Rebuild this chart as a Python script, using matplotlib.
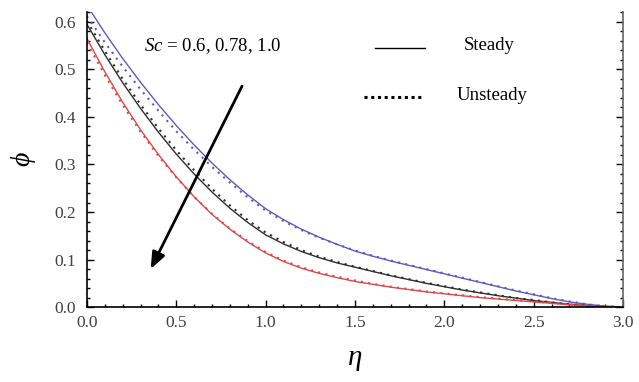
import matplotlib.pyplot as plt
from matplotlib.ticker import MultipleLocator
from matplotlib.lines import Line2D

plt.rcParams['font.family'] = ['Liberation Serif', 'DejaVu Serif']
plt.rcParams['mathtext.fontset'] = 'custom'
plt.rcParams['mathtext.rm'] = 'Liberation Serif'
plt.rcParams['mathtext.it'] = 'Liberation Serif:italic'

eta = [0.0, 0.1, 0.2, 0.3, 0.4, 0.5, 0.6, 0.7, 0.8, 0.9, 1.0,
       1.1, 1.2, 1.3, 1.4, 1.5, 1.6, 1.7, 1.8, 1.9, 2.0,
       2.1, 2.2, 2.3, 2.4, 2.5, 2.6, 2.7, 2.8, 2.9, 3.0]

# Sc = 0.6 (blue), 0.78 (black), 1.0 (red)
steady_06 = [0.635, 0.577, 0.523, 0.473, 0.426, 0.382, 0.341, 0.303, 0.268, 0.236, 0.207,
             0.184, 0.164, 0.147, 0.132, 0.118, 0.107, 0.097, 0.088, 0.079, 0.070,
             0.061, 0.052, 0.043, 0.034, 0.026, 0.018, 0.011, 0.006, 0.002, 0.0]
unsteady_06 = [0.612, 0.557, 0.506, 0.458, 0.413, 0.370, 0.331, 0.295, 0.262, 0.231, 0.203,
               0.181, 0.162, 0.146, 0.132, 0.119, 0.108, 0.098, 0.089, 0.080, 0.071,
               0.062, 0.053, 0.044, 0.035, 0.027, 0.019, 0.012, 0.006, 0.002, 0.0]
steady_078 = [0.595, 0.531, 0.472, 0.418, 0.368, 0.322, 0.280, 0.242, 0.208, 0.178, 0.152,
              0.133, 0.117, 0.104, 0.093, 0.084, 0.075, 0.066, 0.058, 0.050, 0.043,
              0.036, 0.030, 0.024, 0.019, 0.014, 0.010, 0.006, 0.003, 0.001, 0.0]
unsteady_078 = [0.602, 0.539, 0.480, 0.426, 0.376, 0.330, 0.288, 0.249, 0.214, 0.183, 0.157,
                0.137, 0.120, 0.106, 0.095, 0.085, 0.076, 0.067, 0.059, 0.051, 0.044,
                0.037, 0.031, 0.025, 0.019, 0.015, 0.010, 0.006, 0.003, 0.001, 0.0]
steady_10 = [0.565, 0.495, 0.431, 0.373, 0.321, 0.274, 0.232, 0.195, 0.164, 0.137, 0.114,
             0.096, 0.082, 0.071, 0.062, 0.054, 0.048, 0.042, 0.037, 0.032, 0.028,
             0.024, 0.020, 0.017, 0.014, 0.011, 0.008, 0.005, 0.003, 0.001, 0.0]
unsteady_10 = [0.556, 0.488, 0.425, 0.369, 0.318, 0.273, 0.232, 0.196, 0.165, 0.139, 0.116,
               0.098, 0.084, 0.073, 0.064, 0.056, 0.049, 0.043, 0.038, 0.033, 0.029,
               0.025, 0.021, 0.018, 0.015, 0.012, 0.009, 0.006, 0.003, 0.001, 0.0]

colors = ['#5c5cc0', '#2e2e2e', '#e04848']

fig = plt.figure(figsize=(6.39, 3.82), dpi=100)
ax = fig.add_axes([0.136, 0.196, 0.839, 0.773])

dots = (0, (1, 2.5))
ax.plot(eta, steady_06, color=colors[0], lw=1.0)
ax.plot(eta, unsteady_06, color=colors[0], lw=1.5, ls=dots)
ax.plot(eta, steady_078, color=colors[1], lw=1.0)
ax.plot(eta, unsteady_078, color=colors[1], lw=1.5, ls=dots)
ax.plot(eta, steady_10, color=colors[2], lw=1.0)
ax.plot(eta, unsteady_10, color=colors[2], lw=1.5, ls=dots)

ax.set_xlim(0, 3.0)
ax.set_ylim(0, 0.621)
ax.xaxis.set_major_locator(MultipleLocator(0.5))
ax.xaxis.set_minor_locator(MultipleLocator(0.1))
ax.yaxis.set_major_locator(MultipleLocator(0.1))
ax.yaxis.set_minor_locator(MultipleLocator(0.02))
ax.xaxis.set_major_formatter(plt.FormatStrFormatter('%.1f'))
ax.yaxis.set_major_formatter(plt.FormatStrFormatter('%.1f'))
ax.tick_params(which='both', direction='in', right=True, top=False,
               labelsize=12.5, labelcolor='#404040', width=1.0)
ax.tick_params(axis='y', which='major', pad=8)
ax.tick_params(axis='x', which='major', pad=6)
ax.tick_params(which='major', length=5)
ax.tick_params(which='minor', length=2.5)
ax.spines['top'].set_visible(False)
for s in ['left', 'bottom', 'right']:
    ax.spines[s].set_linewidth(1.2)
ax.spines['right'].set_color('#666666')

ax.set_xlabel(r'$\eta$', fontsize=21, labelpad=11)
ax.set_ylabel(r'$\phi$', fontsize=20, labelpad=12)

ax.text(0.107, 0.885, r'$Sc$ = 0.6, 0.78, 1.0', transform=ax.transAxes,
        fontsize=13.5, va='center', ha='left')
ax.add_line(Line2D([0.537, 0.631], [0.877, 0.877], transform=ax.transAxes,
                   color='black', lw=1.0))
ax.text(0.703, 0.885, 'Steady', transform=ax.transAxes, fontsize=13.5,
        va='center', ha='left')
ax.add_line(Line2D([0.517, 0.625], [0.71, 0.71], transform=ax.transAxes,
                   color='black', lw=2.2, ls=(0, (1, 1.2))))
ax.text(0.69, 0.715, 'Unsteady', transform=ax.transAxes, fontsize=13.5,
        va='center', ha='left')

ax.annotate('', xy=(0.35, 0.075), xytext=(0.875, 0.47),
            arrowprops=dict(arrowstyle='-|>,head_length=1.0,head_width=0.4',
                            color='black', lw=2.0))

fig.savefig('out.png', dpi=100)
